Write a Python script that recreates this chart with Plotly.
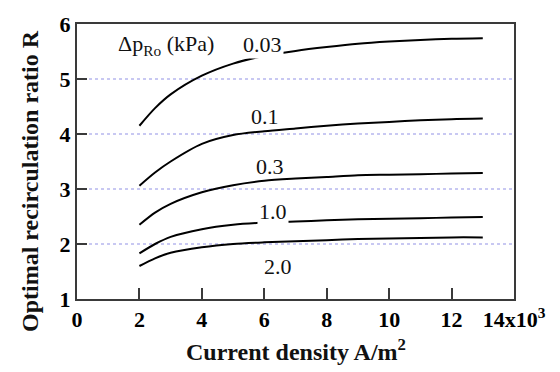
import plotly.graph_objects as go

# Current density (x10^3 A/m^2)
current_density = [2, 2.5, 3, 4, 5, 6, 7, 8, 9, 10, 11, 12, 13]

# Optimal recirculation ratio R for each pressure drop (kPa)
r_003 = [4.15, 4.47, 4.72, 5.06, 5.28, 5.42, 5.51, 5.58, 5.64, 5.68, 5.71, 5.73, 5.74]
r_01 = [3.06, 3.30, 3.50, 3.82, 3.98, 4.05, 4.10, 4.15, 4.19, 4.22, 4.25, 4.27, 4.28]
r_03 = [2.35, 2.57, 2.73, 2.94, 3.07, 3.15, 3.19, 3.22, 3.25, 3.26, 3.27, 3.28, 3.29]
r_10 = [1.83, 2.00, 2.13, 2.27, 2.35, 2.39, 2.41, 2.43, 2.45, 2.46, 2.47, 2.48, 2.49]
r_20 = [1.60, 1.74, 1.84, 1.94, 2.00, 2.03, 2.05, 2.07, 2.09, 2.10, 2.11, 2.12, 2.12]

series = [("0.03", r_003), ("0.1", r_01), ("0.3", r_03), ("1.0", r_10), ("2.0", r_20)]

# Curve label positions (x, R) and whether the label masks the curve behind it
label_pos = {"0.03": (5.93, 5.63, True), "0.1": (6.03, 4.32, False),
             "0.3": (6.19, 3.41, False), "1.0": (6.29, 2.59, True),
             "2.0": (6.45, 1.59, False)}

x_tickvals = [0, 2, 4, 6, 8, 10, 12, 14]
x_ticktext = ["0", "2", "4", "6", "8", "10", "12", "14x10<sup>3</sup>"]
y_tickvals = [1, 2, 3, 4, 5, 6]

SERIF = "Liberation Serif"
AXIS_COLOR = "#3a3a3a"
GRID_COLOR = "#c8c8f2"

fig = go.Figure()
for name, vals in series:
    fig.add_trace(go.Scatter(
        x=current_density, y=vals, mode="lines", name=name,
        line=dict(color="black", width=2, shape="spline", smoothing=0.8),
        showlegend=False, hoverinfo="skip",
    ))

for name, (lx, ly, mask) in label_pos.items():
    fig.add_annotation(x=lx, y=ly, xref="x", yref="y", text=name, showarrow=False,
                       font=dict(family=SERIF, size=22, color="#111"),
                       bgcolor="white" if mask else None, borderpad=1)

fig.add_annotation(x=2.85, y=5.62, xref="x", yref="y", text="Δp<sub>Ro</sub> (kPa)",
                   showarrow=False, font=dict(family=SERIF, size=22, color="#111"))

# Axis titles
fig.add_annotation(x=0.5, y=-0.185, xref="paper", yref="paper",
                   text="<b>Current density A/m<sup>2</sup></b>", showarrow=False,
                   xanchor="center", yanchor="middle",
                   font=dict(family=SERIF, size=24, color="#111"))
fig.add_annotation(x=-0.107, y=0.43, xref="paper", yref="paper",
                   text="<b>Optimal recirculation ratio R</b>", showarrow=False,
                   textangle=-90, xanchor="center", yanchor="middle",
                   font=dict(family=SERIF, size=24, color="#111"))

tick_font = dict(family=SERIF, size=22, color="#000", weight="bold")

fig.update_xaxes(
    range=[0, 14], tickvals=x_tickvals, ticktext=x_ticktext,
    ticks="inside", ticklen=11, tickwidth=2, tickcolor=AXIS_COLOR,
    showline=True, linecolor=AXIS_COLOR, linewidth=2, mirror=True,
    showgrid=False, zeroline=False, tickfont=tick_font,
)
fig.update_yaxes(
    range=[1, 6], tickvals=y_tickvals,
    ticks="inside", ticklen=10, tickwidth=2, tickcolor=AXIS_COLOR,
    showline=True, linecolor=AXIS_COLOR, linewidth=2, mirror=True,
    showgrid=True, gridcolor=GRID_COLOR, gridwidth=1.5, griddash="dot",
    zeroline=False, tickfont=tick_font,
)

fig.update_layout(
    width=560, height=372,
    margin=dict(l=77, r=46, t=15, b=73),
    paper_bgcolor="white", plot_bgcolor="white",
)

fig.write_html("out.html")
